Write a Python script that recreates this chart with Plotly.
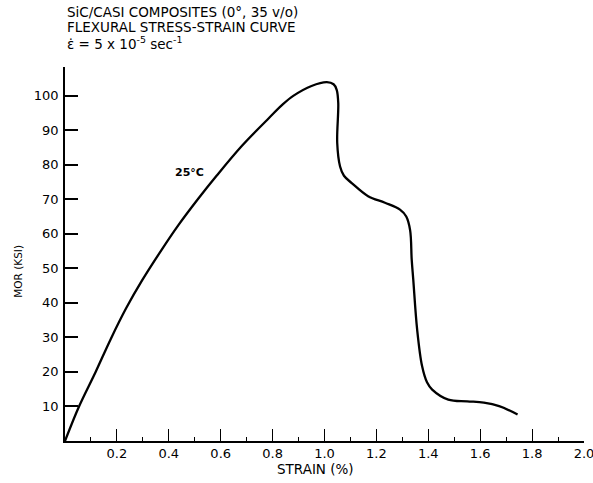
import plotly.graph_objects as go

# curve: strain (%) vs MOR (ksi)
strain = [0.0, 0.054, 0.118, 0.176, 0.236, 0.297, 0.371, 0.437, 0.514, 0.584,
          0.682, 0.787, 0.841, 0.881, 0.95, 1.009, 1.035, 1.047, 1.053, 1.049,
          1.060, 1.075, 1.105, 1.168, 1.233, 1.291, 1.315, 1.330, 1.336, 1.342,
          1.357, 1.376, 1.395, 1.415, 1.477, 1.550, 1.614, 1.673, 1.744]
mor = [0.0, 10.0, 20.0, 29.5, 38.5, 46.5, 55.2, 62.5, 70.2, 76.8,
       85.5, 93.6, 97.6, 100.0, 102.8, 103.9, 103.3, 101.7, 97.9, 86.3,
       79.5, 76.8, 74.7, 70.9, 69.0, 67.0, 65.0, 61.0, 52.6, 46.8,
       32.3, 21.7, 17.0, 14.9, 12.0, 11.5, 11.1, 10.1, 7.7]

x_ticks = [0.2, 0.4, 0.6, 0.8, 1.0, 1.2, 1.4, 1.6, 1.8, 2.0]
x_labels = ["0.2", "0.4", "0.6", "0.8", "1.0", "1.2", "1.4", "1.6", "1.8", "2.0"]
y_ticks = [10, 20, 30, 40, 50, 60, 70, 80, 90, 100]

title_lines = ["SiC/CASI COMPOSITES (0°, 35 v/o)",
               "FLEXURAL STRESS-STRAIN CURVE",
               "ε̇ = 5 x 10<sup>-5</sup> sec<sup>-1</sup>"]

FONT = "DejaVu Sans"

fig = go.Figure()
fig.add_trace(go.Scatter(x=strain, y=mor, mode="lines",
                         line=dict(color="black", width=2.3, shape="spline", smoothing=1.0),
                         showlegend=False, hoverinfo="skip"))

fig.update_layout(
    width=593, height=483,
    margin=dict(l=65, r=9, t=67, b=42, autoexpand=False),
    paper_bgcolor="white", plot_bgcolor="white",
    font=dict(family=FONT, size=13, color="black"),
    xaxis=dict(range=[0, 2.0], tickvals=x_ticks, ticktext=x_labels,
               ticks="inside", ticklen=12, tickwidth=1.4, tickcolor="black",
               showline=True, linecolor="black", linewidth=1.6,
               showgrid=False, zeroline=False, ticklabeloverflow="allow",
               automargin=False,
               minor=dict(ticks="inside", ticklen=4, tickwidth=1.3, tickcolor="black",
                          tick0=0.1, dtick=0.2, showgrid=False)),
    yaxis=dict(range=[0, 108.3], tickvals=y_ticks,
               ticks="inside", ticklen=13, tickwidth=1.8, tickcolor="black",
               showline=True, linecolor="black", linewidth=1.6,
               showgrid=False, zeroline=False, ticklabelstandoff=2,
               automargin=False),
)

# axis titles placed like the original lettering
fig.add_annotation(text="STRAIN (%)", xref="paper", yref="paper", x=0.482, y=-0.076,
                   xanchor="center", yanchor="middle", showarrow=False,
                   font=dict(family=FONT, size=13.5))
fig.add_annotation(text="MOR (KSI)", xref="paper", yref="paper", x=-0.0906, y=0.455,
                   xanchor="center", yanchor="middle", showarrow=False, textangle=-90,
                   font=dict(family=FONT, size=10.5))

# three-line heading above the plot
for i, yy in enumerate([1.147, 1.107, 1.0655]):
    fig.add_annotation(text=title_lines[i], xref="paper", yref="paper", x=0, y=yy,
                       xanchor="left", yanchor="middle", showarrow=False,
                       font=dict(family=FONT, size=13.5))

fig.add_annotation(text="<b>25°C</b>", x=0.478, y=77.7, xref="x", yref="y",
                   showarrow=False, font=dict(family=FONT, size=11))

# drop the default body margin so the figure fills the window exactly
fig.write_html("out.html", config={"displayModeBar": False},
               post_script="document.body.style.margin='0px';")
